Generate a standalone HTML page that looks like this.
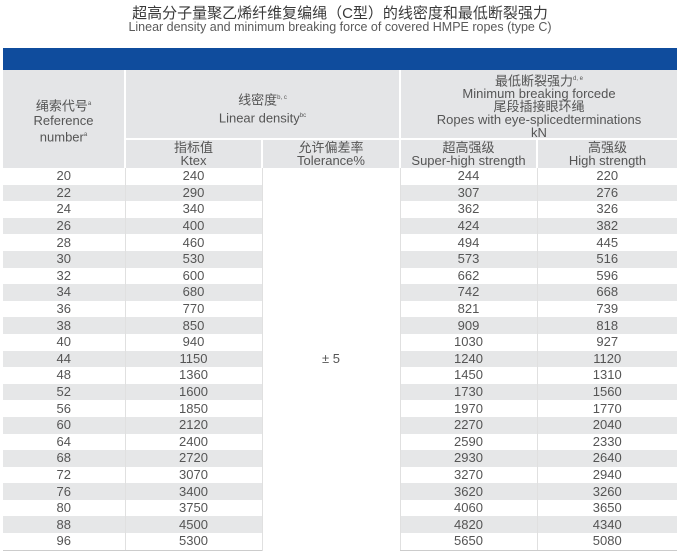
<!DOCTYPE html>
<html><head><meta charset="utf-8"><style>
body{margin:0;width:680px;height:554px;background:#fff;font-family:"Liberation Sans","Noto Sans CJK SC",sans-serif;color:#555;position:relative;overflow:hidden}
.t1{position:absolute;top:2px;left:0;width:680px;text-align:center;font-size:15px;color:#3a3a3a}
.t2{position:absolute;top:20px;left:0;width:680px;text-align:center;font-size:12.5px;color:#5a5a5a}
.bar{position:absolute;left:3px;top:48px;width:674px;height:22px;background:#0f4c9d}
.c{position:absolute;text-align:center;font-size:13px;line-height:15px}
.hd{position:absolute;background:#e4e5e7}
table{position:absolute;left:3px;top:168px;border-collapse:collapse;width:674px;font-size:13px}
td{height:16.6px;padding:0;text-align:center;line-height:16px}
tr:nth-child(even) td{background:#e6e7e8}
td{border-left:1px solid #e0e0e0}
td:first-child{border-left:none}
tr:last-child td{border-bottom:1px solid #ccc}
</style></head><body>
<div class="t1">超高分子量聚乙烯纤维复编绳（C型）的线密度和最低断裂强力</div>
<div class="t2">Linear density and minimum breaking force of covered HMPE ropes (type C)</div>
<div class="bar"></div>
<div class="hd" style="left:3px;top:70px;width:121px;height:98px"></div>
<div class="hd" style="left:126px;top:70px;width:273px;height:68px"></div>
<div class="hd" style="left:401px;top:70px;width:276px;height:68px"></div>
<div class="hd" style="left:126px;top:140px;width:135px;height:28px"></div>
<div class="hd" style="left:263px;top:140px;width:136px;height:28px"></div>
<div class="hd" style="left:401px;top:140px;width:135px;height:28px"></div>
<div class="hd" style="left:538px;top:140px;width:139px;height:28px"></div>
<div class="c" style="left:3px;top:97px;width:121px">绳索代号<sup style="font-size:6px">a</sup><br>Reference<br>number<sup style="font-size:6px">a</sup></div>
<div class="c" style="left:126px;top:90px;width:273px;line-height:16px">线密度<sup style="font-size:6px">b, c</sup><br>Linear density<sup style="font-size:6px">bc</sup></div>
<div class="c" style="left:401px;top:73px;width:276px;line-height:13px">最低断裂强力<sup style="font-size:6px">d, e</sup><br>Minimum breaking forcede<br>尾段插接眼环绳<br>Ropes with eye-splicedterminations<br>kN</div>
<div class="c" style="left:126px;top:141px;width:135px;line-height:13px">指标值<br>Ktex</div>
<div class="c" style="left:263px;top:141px;width:136px;line-height:13px">允许偏差率<br>Tolerance%</div>
<div class="c" style="left:401px;top:141px;width:135px;line-height:13px">超高强级<br>Super-high strength</div>
<div class="c" style="left:538px;top:141px;width:139px;line-height:13px">高强级<br>High strength</div>
<table>
<colgroup><col style="width:122px"><col style="width:137px"><col style="width:138px"><col style="width:137px"><col style="width:140px"></colgroup>
<tr><td>20</td><td>240</td><td rowspan="23" style="background:#fff">± 5</td><td>244</td><td>220</td></tr>
<tr><td>22</td><td>290</td><td>307</td><td>276</td></tr>
<tr><td>24</td><td>340</td><td>362</td><td>326</td></tr>
<tr><td>26</td><td>400</td><td>424</td><td>382</td></tr>
<tr><td>28</td><td>460</td><td>494</td><td>445</td></tr>
<tr><td>30</td><td>530</td><td>573</td><td>516</td></tr>
<tr><td>32</td><td>600</td><td>662</td><td>596</td></tr>
<tr><td>34</td><td>680</td><td>742</td><td>668</td></tr>
<tr><td>36</td><td>770</td><td>821</td><td>739</td></tr>
<tr><td>38</td><td>850</td><td>909</td><td>818</td></tr>
<tr><td>40</td><td>940</td><td>1030</td><td>927</td></tr>
<tr><td>44</td><td>1150</td><td>1240</td><td>1120</td></tr>
<tr><td>48</td><td>1360</td><td>1450</td><td>1310</td></tr>
<tr><td>52</td><td>1600</td><td>1730</td><td>1560</td></tr>
<tr><td>56</td><td>1850</td><td>1970</td><td>1770</td></tr>
<tr><td>60</td><td>2120</td><td>2270</td><td>2040</td></tr>
<tr><td>64</td><td>2400</td><td>2590</td><td>2330</td></tr>
<tr><td>68</td><td>2720</td><td>2930</td><td>2640</td></tr>
<tr><td>72</td><td>3070</td><td>3270</td><td>2940</td></tr>
<tr><td>76</td><td>3400</td><td>3620</td><td>3260</td></tr>
<tr><td>80</td><td>3750</td><td>4060</td><td>3650</td></tr>
<tr><td>88</td><td>4500</td><td>4820</td><td>4340</td></tr>
<tr><td>96</td><td>5300</td><td>5650</td><td>5080</td></tr>
</table>
</body></html>
